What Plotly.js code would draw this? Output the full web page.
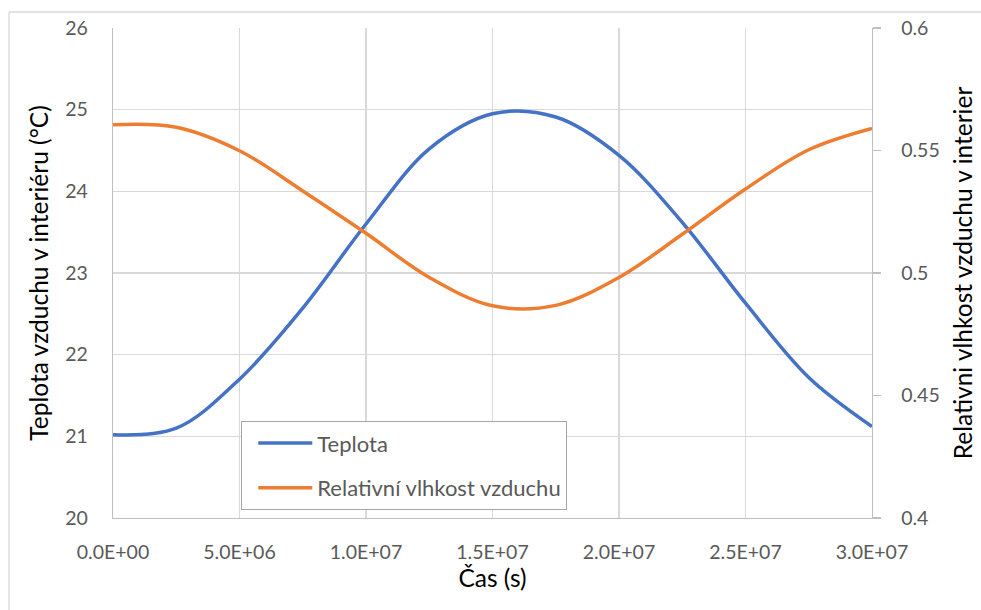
<!DOCTYPE html>
<html>
<head>
<meta charset="utf-8">
<script src="https://cdn.plot.ly/plotly-3.0.1.min.js"></script>
<style>
  html, body { margin: 0; padding: 0; background: #ffffff; }
  #chart { width: 981px; height: 610px; }
</style>
</head>
<body>
<div id="chart"></div>
<script>
// Time of year (s)
const timeSec = [0, 2.5e6, 5.0e6, 7.5e6, 10.0e6, 12.5e6, 15.0e6, 17.5e6,
                 20.0e6, 22.5e6, 25.0e6, 27.5e6, 30.0e6];
// Indoor air temperature (°C)
const temperature = [21.02, 21.10, 21.70, 22.57, 23.60, 24.52, 24.95, 24.91,
                     24.44, 23.62, 22.63, 21.72, 21.12];
// Indoor relative humidity (-)
const humidity = [0.5605, 0.5595, 0.5499, 0.5335, 0.5162, 0.4982, 0.4866, 0.4868,
                  0.4982, 0.5158, 0.5343, 0.5503, 0.5590];

// Axis ticks
const xTickVals = [0, 5e6, 1e7, 1.5e7, 2e7, 2.5e7, 3e7];
const xTickLabels = ['0.0E+00', '5.0E+06', '1.0E+07', '1.5E+07', '2.0E+07', '2.5E+07', '3.0E+07'];
const tempTickVals = [20, 21, 22, 23, 24, 25, 26];
const rhTickVals = [0.4, 0.45, 0.5, 0.55, 0.6];
const rhTickLabels = ['0.4', '0.45', '0.5', '0.55', '0.6'];

const seriesNames = ['Teplota', 'Relativní vlhkost vzduchu'];

const FONT = 'Lato, "Liberation Sans", sans-serif';
const TICK_GRAY = '#595959';
const TICK_SIZE = 19.5;
const TITLE_SIZE = 24.5;

const traces = [
  {
    x: timeSec, y: temperature, name: seriesNames[0], type: 'scatter', mode: 'lines',
    line: { color: '#4472C4', width: 3.5, shape: 'spline', smoothing: 1 },
    yaxis: 'y', legendgroup: 'a'
  },
  {
    x: timeSec, y: humidity, name: seriesNames[1], type: 'scatter', mode: 'lines',
    line: { color: '#ED7D31', width: 3.5, shape: 'spline', smoothing: 1 },
    yaxis: 'y2', legendgroup: 'b'
  }
];

// pixel -> paper helpers for the frame and legend placement
const px2x = p => (p - 113) / 759;
const px2y = p => (518 - p) / 490;

const layout = {
  width: 981, height: 610,
  margin: { l: 113, r: 109, t: 28, b: 92, pad: 0 },
  paper_bgcolor: '#ffffff', plot_bgcolor: '#ffffff',
  font: { family: FONT, size: TICK_SIZE, color: TICK_GRAY },
  showlegend: true,
  legend: {
    x: px2x(241), y: px2y(421), xanchor: 'left', yanchor: 'top',
    bgcolor: '#ffffff', bordercolor: '#a6a6a6', borderwidth: 1.3,
    font: { family: FONT, size: 22, color: TICK_GRAY },
    traceorder: 'grouped', tracegroupgap: 13,
    itemwidth: 54, indentation: 11,
    entrywidth: 325, entrywidthmode: 'pixels'
  },
  xaxis: {
    range: [0, 3e7], tickvals: xTickVals, ticktext: xTickLabels,
    showgrid: true, gridcolor: '#d9d9d9', gridwidth: 1.3,
    showline: true, linecolor: '#bfbfbf', linewidth: 1.3,
    zeroline: false, ticks: '', ticklabelstandoff: 16,
    tickfont: { family: FONT, size: TICK_SIZE, color: TICK_GRAY },
    title: { text: 'Čas (s)', font: { family: FONT, size: TITLE_SIZE, color: '#000000' }, standoff: 8 }
  },
  yaxis: {
    range: [20, 26], tickvals: tempTickVals,
    showgrid: true, gridcolor: '#d9d9d9', gridwidth: 1.3,
    showline: true, linecolor: '#bfbfbf', linewidth: 1.3,
    zeroline: false, ticks: '', ticklabelstandoff: 20,
    tickfont: { family: FONT, size: TICK_SIZE, color: TICK_GRAY },
    title: { text: 'Teplota vzduchu v interiéru (°C)', font: { family: FONT, size: TITLE_SIZE, color: '#000000' }, standoff: 9 }
  },
  yaxis2: {
    range: [0.4, 0.6], tickvals: rhTickVals, ticktext: rhTickLabels,
    overlaying: 'y', side: 'right', showgrid: false,
    showline: true, linecolor: '#bfbfbf', linewidth: 1.3,
    zeroline: false, ticks: 'outside', ticklen: 8, tickcolor: '#bfbfbf', tickwidth: 1.3,
    ticklabelstandoff: 16,
    tickfont: { family: FONT, size: TICK_SIZE, color: TICK_GRAY },
    title: { text: 'Relativni vlhkost vzduchu v interier', font: { family: FONT, size: TITLE_SIZE, color: '#000000' }, standoff: 16 }
  },
  shapes: [
    { type: 'line', xref: 'paper', yref: 'paper', layer: 'below',
      x0: px2x(9), x1: px2x(990), y0: px2y(12), y1: px2y(12),
      line: { color: '#d9d9d9', width: 1.3 } },
    { type: 'line', xref: 'paper', yref: 'paper', layer: 'below',
      x0: px2x(9), x1: px2x(9), y0: px2y(12), y1: px2y(620),
      line: { color: '#d9d9d9', width: 1.3 } }
  ]
};

Plotly.newPlot('chart', traces, layout, { displayModeBar: false, staticPlot: true });
</script>
</body>
</html>
